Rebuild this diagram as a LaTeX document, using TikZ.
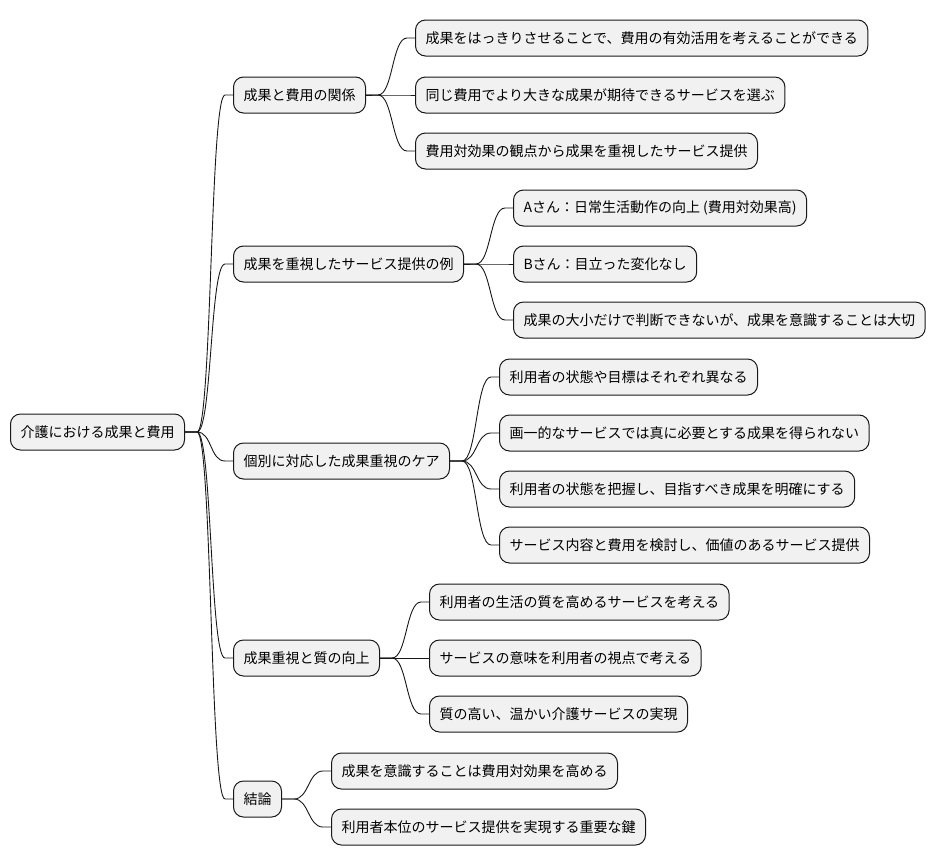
\documentclass[tikz,border=0pt]{standalone}
\usepackage{fontspec}
\setmainfont{Noto Sans CJK JP}
\usetikzlibrary{calc, positioning}
\definecolor{mmfill}{HTML}{F1F1F1}
\definecolor{mmline}{HTML}{181818}
\tikzset{
  % box of the mind map
  mmbox/.style={draw=mmline, fill=mmfill, line width=1pt, rounded corners=10pt,
    minimum height=36pt, inner xsep=10pt, anchor=west,
    font=\fontsize{14pt}{17pt}\selectfont},
  % branch between two boxes
  branch/.style={draw=mmline, line width=0.9pt},
}
\begin{document}
\begin{tikzpicture}[x=1pt, y=-1pt]
  \useasboundingbox (0,0) rectangle (936,865);
  % root
  \node[mmbox] (root) at (10,432) {介護における成果と費用};
  % first level
  \node[mmbox] (g1) at (233,95) {成果と費用の関係};
  \node[mmbox] (g2) at (233,264) {成果を重視したサービス提供の例};
  \node[mmbox] (g3) at (233,461) {個別に対応した成果重視のケア};
  \node[mmbox] (g4) at (233,658) {成果重視と質の向上};
  \node[mmbox] (g5) at (233,799) {結論};
  % second level
  \node[mmbox] (a1) at (415,38) {成果をはっきりさせることで、費用の有効活用を考えることができる};
  \node[mmbox] (a2) at (415,95) {同じ費用でより大きな成果が期待できるサービスを選ぶ};
  \node[mmbox] (a3) at (415,151) {費用対効果の観点から成果を重視したサービス提供};
  \node[mmbox] (b1) at (513,208) {Aさん：日常生活動作の向上 (費用対効果高)};
  \node[mmbox] (b2) at (513,264) {Bさん：目立った変化なし};
  \node[mmbox] (b3) at (513,320) {成果の大小だけで判断できないが、成果を意識することは大切};
  \node[mmbox] (c1) at (499,377) {利用者の状態や目標はそれぞれ異なる};
  \node[mmbox] (c2) at (499,433) {画一的なサービスでは真に必要とする成果を得られない};
  \node[mmbox] (c3) at (499,489) {利用者の状態を把握し、目指すべき成果を明確にする};
  \node[mmbox] (c4) at (499,545) {サービス内容と費用を検討し、価値のあるサービス提供};
  \node[mmbox] (d1) at (429,602) {利用者の生活の質を高めるサービスを考える};
  \node[mmbox] (d2) at (429,658) {サービスの意味を利用者の視点で考える};
  \node[mmbox] (d3) at (429,714) {質の高い、温かい介護サービスの実現};
  \node[mmbox] (e1) at (331,771) {成果を意識することは費用対効果を高める};
  \node[mmbox] (e2) at (331,827) {利用者本位のサービス提供を実現する重要な鍵};
  % branches
  \foreach \p/\c in {root/g1, root/g2, root/g3, root/g4, root/g5,
      g1/a1, g1/a2, g1/a3, g2/b1, g2/b2, g2/b3,
      g3/c1, g3/c2, g3/c3, g3/c4, g4/d1, g4/d2, g4/d3, g5/e1, g5/e2}
    \draw[branch] (\p.east) -- ++(12,0) .. controls +(15,0) and ($(\c.west)+(-23,0)$)
      .. ($(\c.west)+(-8,0)$) -- (\c.west);
\end{tikzpicture}
\end{document}
